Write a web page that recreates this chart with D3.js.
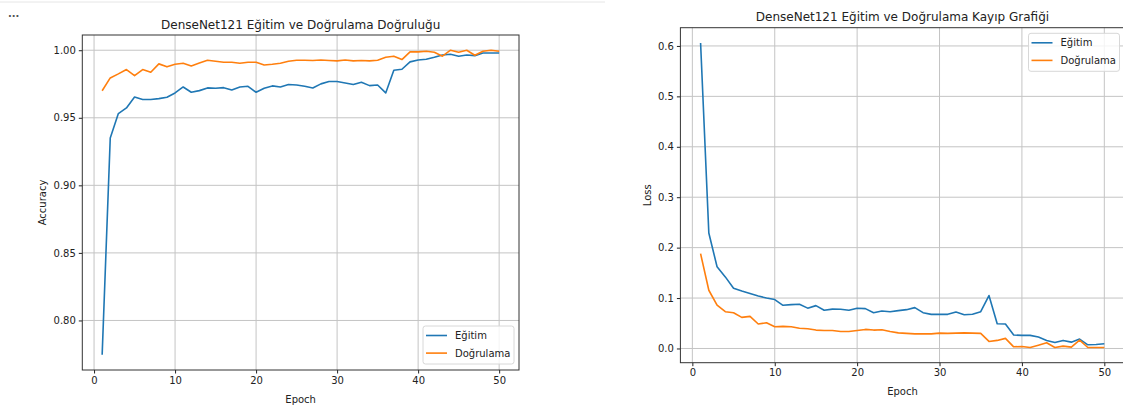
<!DOCTYPE html>
<html>
<head>
<meta charset="utf-8">
<script src="https://cdn.jsdelivr.net/npm/d3@7/dist/d3.min.js"></script>
<style>
  html, body { margin: 0; padding: 0; background: #fff; }
  svg { display: block; font-family: "DejaVu Sans", sans-serif; }
  .tick text { fill: #222; font-size: 10px; }
  .tick line { stroke: #222; }
</style>
</head>
<body>
<svg id="fig" width="1123" height="409"></svg>
<script>
// Training history of DenseNet121 over 50 epochs
const epochs = d3.range(1, 51);

const trainAcc = [
  0.7746, 0.9351, 0.9531, 0.9573, 0.9654, 0.9635, 0.9635, 0.9642, 0.9652, 0.9684,
  0.9728, 0.9689, 0.9701, 0.9721, 0.9719, 0.9723, 0.9706, 0.9728, 0.9733, 0.9689,
  0.9719, 0.9736, 0.9728, 0.9746, 0.9743, 0.9733, 0.9721, 0.9751, 0.9768, 0.9768,
  0.9758, 0.9746, 0.9763, 0.9738, 0.9743, 0.9684, 0.9852, 0.9859, 0.9914, 0.9928,
  0.9933, 0.9948, 0.9965, 0.9970, 0.9956, 0.9965, 0.9960, 0.9980, 0.9980, 0.9980
];
const valAcc = [
  0.9700, 0.9795, 0.9825, 0.9857, 0.9812, 0.9857, 0.9837, 0.9899, 0.9877, 0.9896,
  0.9904, 0.9884, 0.9906, 0.9926, 0.9919, 0.9911, 0.9911, 0.9904, 0.9911, 0.9911,
  0.9891, 0.9896, 0.9904, 0.9919, 0.9926, 0.9926, 0.9924, 0.9928, 0.9924, 0.9921,
  0.9928, 0.9921, 0.9924, 0.9921, 0.9926, 0.9948, 0.9956, 0.9931, 0.9988, 0.9988,
  0.9993, 0.9985, 0.9956, 1.0000, 0.9985, 1.0000, 0.9963, 0.9993, 1.0000, 0.9993
];
const trainLoss = [
  0.606, 0.229, 0.162, 0.142, 0.1195, 0.114, 0.109, 0.104, 0.100, 0.097,
  0.0856, 0.087, 0.0876, 0.080, 0.085, 0.0757, 0.078, 0.0777, 0.0757, 0.0797,
  0.079, 0.071, 0.0743, 0.073, 0.075, 0.077, 0.081, 0.071, 0.0677, 0.0677,
  0.0677, 0.0723, 0.067, 0.068, 0.073, 0.105, 0.049, 0.0485, 0.0266, 0.026,
  0.026, 0.0226, 0.016, 0.012, 0.016, 0.0126, 0.0186, 0.0073, 0.008, 0.0093
];
const valLoss = [
  0.188, 0.1155, 0.086, 0.073, 0.071, 0.0617, 0.0637, 0.0485, 0.051, 0.043,
  0.0438, 0.043, 0.040, 0.039, 0.0365, 0.0358, 0.0358, 0.0338, 0.0338, 0.0358,
  0.0378, 0.0365, 0.0372, 0.0338, 0.031, 0.030, 0.029, 0.029, 0.029, 0.0305,
  0.030, 0.0305, 0.031, 0.0305, 0.030, 0.014, 0.016, 0.020, 0.0033, 0.004,
  0.002, 0.0066, 0.0113, 0.002, 0.0046, 0.0027, 0.0166, 0.002, 0.002, 0.002
];

const epochTicks = [0, 10, 20, 30, 40, 50];
const accTicks = [0.80, 0.85, 0.90, 0.95, 1.00];
const lossTicks = [0.0, 0.1, 0.2, 0.3, 0.4, 0.5, 0.6];
const seriesNames = ["Eğitim", "Doğrulama"];
const seriesColors = ["#1f77b4", "#ff7f0e"];

const svg = d3.select("#fig");

// Notebook output decorations
svg.append("line")
  .attr("x1", 0).attr("x2", 605).attr("y1", 2).attr("y2", 2)
  .attr("stroke", "#e6e6e6").attr("stroke-width", 1);
svg.append("text")
  .attr("x", 8).attr("y", 17)
  .attr("font-size", 10).attr("font-weight", "bold").attr("fill", "#555")
  .text("...");

// padded extent in the style of matplotlib autoscaling (5% margin)
function padded(lo, hi) {
  const m = (hi - lo) * 0.05;
  return [lo - m, hi + m];
}

function drawPanel(cfg) {
  const { left, right, top, bottom } = cfg.box;
  const g = svg.append("g");

  const x = d3.scaleLinear().domain(padded(1, 50)).range([left, right]);
  const all = cfg.series.flat();
  const y = d3.scaleLinear().domain(padded(d3.min(all), d3.max(all))).range([bottom, top]);

  // grid
  const grid = g.append("g").attr("stroke", "#c4c4c4").attr("stroke-width", 1);
  grid.selectAll("line.gx").data(epochTicks).join("line")
    .attr("x1", d => x(d)).attr("x2", d => x(d))
    .attr("y1", top).attr("y2", bottom);
  grid.selectAll("line.gy").data(cfg.yTicks).join("line")
    .attr("x1", left).attr("x2", right)
    .attr("y1", d => y(d)).attr("y2", d => y(d));

  // axes
  const xAxis = g.append("g")
    .attr("transform", `translate(0,${bottom})`)
    .call(d3.axisBottom(x).tickValues(epochTicks).tickFormat(d3.format("d"))
      .tickSize(3.5).tickPadding(3).tickSizeOuter(0));
  const yAxis = g.append("g")
    .attr("transform", `translate(${left},0)`)
    .call(d3.axisLeft(y).tickValues(cfg.yTicks).tickFormat(d3.format(cfg.yFormat))
      .tickSize(3.5).tickPadding(3).tickSizeOuter(0));
  [xAxis, yAxis].forEach(a => {
    a.select(".domain").remove();
    a.selectAll("text").attr("font-family", "DejaVu Sans, sans-serif").attr("font-size", 10);
  });

  // lines
  const line = d3.line().x((d, i) => x(epochs[i])).y(d => y(d));
  cfg.series.forEach((s, k) => {
    g.append("path")
      .datum(s)
      .attr("fill", "none")
      .attr("stroke", seriesColors[k])
      .attr("stroke-width", 1.6)
      .attr("stroke-linejoin", "round")
      .attr("stroke-linecap", "butt")
      .attr("d", line);
  });

  // frame
  g.append("rect")
    .attr("x", left).attr("y", top)
    .attr("width", right - left).attr("height", bottom - top)
    .attr("fill", "none").attr("stroke", "#333").attr("stroke-width", 1);

  // title
  g.append("text")
    .attr("x", (left + right) / 2).attr("y", cfg.titleY)
    .attr("text-anchor", "middle").attr("font-size", 12).attr("fill", "#222")
    .text(cfg.title);

  // axis labels
  g.append("text")
    .attr("x", (left + right) / 2).attr("y", cfg.xLabelY)
    .attr("text-anchor", "middle").attr("font-size", 10).attr("fill", "#222")
    .text("Epoch");
  g.append("text")
    .attr("transform", `translate(${cfg.yLabelX},${(top + bottom) / 2}) rotate(-90)`)
    .attr("text-anchor", "middle").attr("font-size", 10).attr("fill", "#222")
    .text(cfg.yLabel);

  // legend
  const lw = 91, lh = 38;
  const lx = right - 5 - lw;
  const ly = cfg.legendPos === "lower right" ? bottom - 6 - lh : top + 5.6;
  const lg = g.append("g").attr("transform", `translate(${lx},${ly})`);
  lg.append("rect")
    .attr("width", lw).attr("height", lh).attr("rx", 2.5)
    .attr("fill", "rgba(255,255,255,0.8)").attr("stroke", "#d8d8d8").attr("stroke-width", 1);
  seriesNames.forEach((name, k) => {
    const cy = 9.5 + k * 17.6;
    lg.append("line")
      .attr("x1", 3).attr("x2", 24).attr("y1", cy).attr("y2", cy)
      .attr("stroke", seriesColors[k]).attr("stroke-width", 1.6);
    lg.append("text")
      .attr("x", 32).attr("y", cy + 3.6)
      .attr("font-size", 10).attr("fill", "#222")
      .text(name);
  });
}

drawPanel({
  box: { left: 82.3, right: 519, top: 35, bottom: 370 },
  series: [trainAcc, valAcc],
  yTicks: accTicks,
  yFormat: ".2f",
  title: "DenseNet121 Eğitim ve Doğrulama Doğruluğu",
  titleY: 28.5,
  xLabelY: 403,
  yLabel: "Accuracy",
  yLabelX: 46,
  legendPos: "lower right"
});

drawPanel({
  box: { left: 680.4, right: 1124.5, top: 27.7, bottom: 362.7 },
  series: [trainLoss, valLoss],
  yTicks: lossTicks,
  yFormat: ".1f",
  title: "DenseNet121 Eğitim ve Doğrulama Kayıp Grafiği",
  titleY: 21,
  xLabelY: 395,
  yLabel: "Loss",
  yLabelX: 651,
  legendPos: "upper right"
});
</script>
</body>
</html>
